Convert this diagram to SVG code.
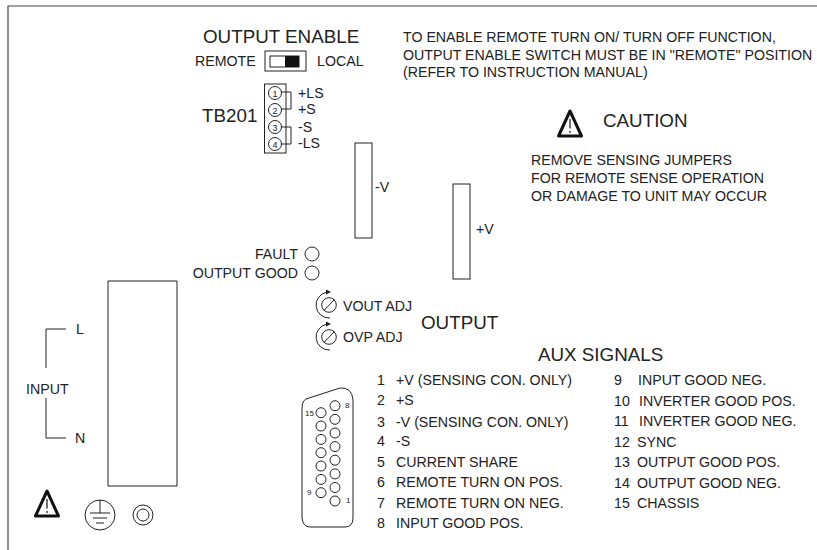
<svg xmlns="http://www.w3.org/2000/svg" width="817" height="550" viewBox="0 0 817 550">
<style>
text{font-family:"Liberation Sans",Arial,sans-serif;fill:#222}
.s{fill:none;stroke:#222;stroke-width:1}
.t{font-size:14.200px}.b{font-size:18.800px}
</style>
<defs>
<g id="warn"><path d="M0,-16 L-11.500,9 H11.500 Z" fill="none" stroke="#111" stroke-width="3" stroke-linejoin="round"/><path d="M0,-8 V1.500 M0,4 V6" stroke="#111" stroke-width="1.200"/></g>
<g id="knob"><circle r="7.300" class="s"/><path d="M-5,5.500 L5.500,-5.500" class="s"/><path d="M1,13 A13,13 0 0 1 -2,-12.800" class="s"/><path d="M2,-13 L-3,-15.500 L-3,-10.500 Z" fill="#222"/></g>
</defs>
<path id="frame" d="M8,550 V6 H817" fill="none" stroke="#444" stroke-width="1.200"/>
<g id="output-enable">
<text class="b" x="203" y="43">OUTPUT ENABLE</text>
<text class="t" x="195" y="66">REMOTE</text>
<text class="t" x="317" y="66">LOCAL</text>
<rect x="265" y="51" width="41" height="20" class="s"/>
<rect x="270" y="56" width="29" height="11" class="s"/>
<rect x="285" y="56" width="14" height="11" fill="#111"/>
</g>
<g id="tb201">
<text class="b" x="202" y="122">TB201</text>
<rect x="264.500" y="84" width="21.500" height="69" class="s"/>
<circle cx="275" cy="93" r="6.500" class="s"/><circle cx="275" cy="110" r="6.500" class="s"/><circle cx="275" cy="127" r="6.500" class="s"/><circle cx="275" cy="144" r="6.500" class="s"/>
<g font-size="9"><text x="275" y="96.500" text-anchor="middle">1</text><text x="275" y="113.500" text-anchor="middle">2</text><text x="275" y="130.500" text-anchor="middle">3</text><text x="275" y="147.500" text-anchor="middle">4</text></g>
<path d="M281,92 H291 V109 H281 M281,127 H291 V144 H281" class="s"/>
<text class="t" x="298" y="98">+LS</text><text class="t" x="298" y="114">+S</text>
<text class="t" x="298" y="132">-S</text><text class="t" x="298" y="148">-LS</text>
</g>
<g id="notes">
<text class="t" x="403" y="42">TO ENABLE REMOTE TURN ON/ TURN OFF FUNCTION,</text>
<text class="t" x="403" y="60">OUTPUT ENABLE SWITCH MUST BE IN "REMOTE" POSITION</text>
<text class="t" x="403" y="77">(REFER TO INSTRUCTION MANUAL)</text>
</g>
<g id="caution">
<use href="#warn" x="570" y="127"/>
<text class="b" x="603" y="127">CAUTION</text>
<text class="t" x="531" y="165">REMOVE SENSING JUMPERS</text>
<text class="t" x="531" y="183">FOR REMOTE SENSE OPERATION</text>
<text class="t" x="531" y="201">OR DAMAGE TO UNIT MAY OCCUR</text>
</g>
<g id="minus-v"><rect x="355" y="143" width="17" height="95" class="s"/><text class="t" x="375" y="192">-V</text></g>
<g id="plus-v"><rect x="453" y="184" width="17" height="95" class="s"/><text class="t" x="476" y="234">+V</text></g>
<g id="leds">
<text class="t" x="298" y="259" text-anchor="end">FAULT</text>
<text class="t" x="298" y="278" text-anchor="end">OUTPUT GOOD</text>
<circle cx="312" cy="254" r="7" class="s"/><circle cx="312" cy="273" r="7" class="s"/>
</g>
<g id="adj">
<use href="#knob" x="329" y="305"/><text class="t" x="343" y="311">VOUT ADJ</text>
<use href="#knob" x="329" y="337"/><text class="t" x="343" y="342">OVP ADJ</text>
<text class="b" x="421" y="329">OUTPUT</text>
</g>
<g id="input-block"><path d="M108,486 V281 H177 V486 H108" class="s"/></g>
<g id="input">
<path d="M66,329 H46 V368 M46,398 V438 H66" class="s"/>
<text class="t" x="76" y="334">L</text><text class="t" x="75" y="443">N</text>
<text class="t" x="26" y="394">INPUT</text>
</g>
<g id="symbols">
<use href="#warn" x="47" y="507"/>
<circle cx="100" cy="515" r="15" class="s"/>
<path d="M100,500 V513 M90,513 H110 M93,518 H107 M96,523 H104" class="s"/>
<circle cx="143" cy="515" r="10" class="s"/><circle cx="143" cy="515" r="6" class="s"/>
</g>
<g id="aux">
<text class="b" x="538" y="361">AUX SIGNALS</text>
<path id="dsub" d="M302,408 Q302,399 309,398 L340,388 Q352,387 353,400 L353,518 Q353,527 345,527 L310,527 Q303,527 302,518 Z" class="s"/>
<g class="s"><circle cx="335" cy="405.700" r="5"/><circle cx="335" cy="419.300" r="5"/><circle cx="335" cy="433" r="5"/><circle cx="335" cy="446.600" r="5"/><circle cx="335" cy="460.200" r="5"/><circle cx="335" cy="473.900" r="5"/><circle cx="335" cy="487.500" r="5"/><circle cx="335" cy="501" r="5"/>
<circle cx="321" cy="412.700" r="5"/><circle cx="321" cy="426" r="5"/><circle cx="321" cy="439.400" r="5"/><circle cx="321" cy="452.700" r="5"/><circle cx="321" cy="466" r="5"/><circle cx="321" cy="479.400" r="5"/><circle cx="321" cy="492.700" r="5"/></g>
<g font-size="8"><text x="345" y="408">8</text><text x="305" y="416">15</text><text x="307" y="495">9</text><text x="346" y="503">1</text></g>
<g class="t">
<text x="377" y="385">1</text><text x="396" y="385">+V (SENSING CON. ONLY)</text>
<text x="377" y="405">2</text><text x="396" y="405">+S</text>
<text x="377" y="427">3</text><text x="396" y="427">-V (SENSING CON. ONLY)</text>
<text x="377" y="446">4</text><text x="396" y="446">-S</text>
<text x="377" y="467">5</text><text x="396" y="467">CURRENT SHARE</text>
<text x="377" y="487">6</text><text x="396" y="487">REMOTE TURN ON POS.</text>
<text x="377" y="508">7</text><text x="396" y="508">REMOTE TURN ON NEG.</text>
<text x="377" y="528">8</text><text x="396" y="528">INPUT GOOD POS.</text>
<text x="614" y="385">9</text><text x="638" y="385">INPUT GOOD NEG.</text>
<text x="614" y="406">10</text><text x="639" y="406">INVERTER GOOD POS.</text>
<text x="614" y="426">11</text><text x="639" y="426">INVERTER GOOD NEG.</text>
<text x="614" y="447">12</text><text x="637" y="447">SYNC</text>
<text x="614" y="467">13</text><text x="637" y="467">OUTPUT GOOD POS.</text>
<text x="614" y="488">14</text><text x="637" y="488">OUTPUT GOOD NEG.</text>
<text x="614" y="508">15</text><text x="637" y="508">CHASSIS</text>
</g>
</g>
</svg>
